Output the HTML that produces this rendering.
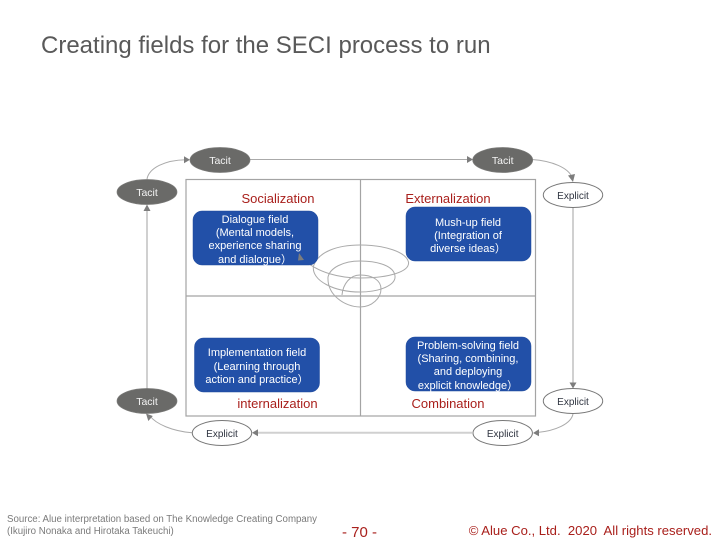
<!DOCTYPE html>
<html>
<head>
<meta charset="utf-8">
<style>
html,body{margin:0;padding:0;background:#fff;width:720px;height:540px;overflow:hidden}
svg{display:block}
text{font-family:"Liberation Sans",sans-serif}
.w{fill:#fff;font-size:11px;text-anchor:middle}
.e{font-size:10px;text-anchor:middle;fill:#2f3440}
.t{font-size:10.5px;text-anchor:middle;fill:#f4f4f4}
.r{fill:#a9201c;font-size:13px;text-anchor:middle}
.box{fill:#2250a8;stroke:#1f4a9c;stroke-width:.5}
.dark{fill:#6a6a68;stroke:#7c7c7a;stroke-width:.7}
.lite{fill:#fff;stroke:#777;stroke-width:1}
.thin{fill:none;stroke:#aaa;stroke-width:1}
.thick{fill:none;stroke:#d0d0d0;stroke-width:2}
.ar{fill:#7d7d7d}
</style>
</head>
<body>
<svg width="720" height="540" viewBox="0 0 720 540" xmlns="http://www.w3.org/2000/svg">
<text x="41" y="53" font-size="24" fill="#595959">Creating fields for the SECI process to run</text>

<rect x="186" y="179.5" width="349.5" height="236.5" fill="#fff" stroke="#a4a4a4" stroke-width="1.2"/>
<line x1="360.5" y1="179.5" x2="360.5" y2="416" stroke="#a4a4a4" stroke-width="1.2"/>
<line x1="186" y1="296" x2="535.5" y2="296" stroke="#a4a4a4" stroke-width="1.2"/>

<!-- connectors -->
<path class="thin" d="M147 179 C149 168 165 160 186 159.700"/>
<path class="ar" d="M190 159.700l-6-3.500v7z"/>
<path class="thin" stroke-width="1.2" d="M250 159.500H468"/>
<path class="ar" d="M473 159.500l-6-3.500v7z"/>
<path class="thin" d="M532 159.500 C553 161 568 168 572 177"/>
<path class="ar" d="M573 182l-5-6.500 7-1.500z"/>
<path class="thick" d="M573 207.500V384"/>
<path class="ar" d="M573 388.500l-3.500-6h7z"/>
<path class="thin" d="M573 414 C571 424 555 431 537 432.500"/>
<path class="ar" d="M533 433l6-3.800v7z"/>
<path class="thick" d="M472 432.800H256"/>
<path class="ar" d="M252 432.800l6-3.500v7z"/>
<path class="thin" d="M192 432.800 C172 431 156 424 150 416"/>
<path class="ar" d="M146 413.500l6.800 2.500-4.500 5z"/>
<path class="thick" d="M147 388.500V209"/>
<path class="ar" d="M147 204.500l-3.500 6.500h7z"/>

<!-- spiral -->
<path class="thin" d="M303 259 C318 273 340 278 360 278 C388 278 410 272 408.500 262 C406 252 385 245 360 245 C337 245 318 252 313.500 266 C311 281 335 292 360 292 C380 292 396 285 395 276 C394 266 378 261 360 261 C343 261 330 268 328 277 C327 295 345 307 360 307 C372 307 381 298 381 289 C381 280 372 275 360 275 C350 275 343 284 342 295"/>

<!-- ellipses -->
<ellipse class="dark" cx="220" cy="160" rx="30" ry="12.500"/>
<text class="t" x="220" y="164">Tacit</text>
<ellipse class="dark" cx="147" cy="192" rx="30" ry="12.500"/>
<text class="t" x="147" y="196">Tacit</text>
<ellipse class="dark" cx="502.700" cy="160" rx="30" ry="12.500"/>
<text class="t" x="502.700" y="164">Tacit</text>
<ellipse class="lite" cx="573" cy="195" rx="29.700" ry="12.500"/>
<text class="e" x="573" y="199">Explicit</text>
<ellipse class="lite" cx="573" cy="401" rx="29.700" ry="12.500"/>
<text class="e" x="573" y="405">Explicit</text>
<ellipse class="lite" cx="502.700" cy="433" rx="29.700" ry="12.500"/>
<text class="e" x="502.700" y="437">Explicit</text>
<ellipse class="lite" cx="222" cy="433" rx="29.700" ry="12.500"/>
<text class="e" x="222" y="437">Explicit</text>
<ellipse class="dark" cx="147" cy="401" rx="30" ry="12.500"/>
<text class="t" x="147" y="405">Tacit</text>

<!-- blue boxes -->
<rect class="box" x="193" y="211" width="125" height="54" rx="9"/>
<text class="w" x="255" y="223">Dialogue field</text>
<text class="w" x="255" y="236">(Mental models,</text>
<text class="w" x="255" y="249">experience sharing</text>
<text class="w" x="255" y="263">and dialogue）</text>
<path class="ar" d="M299 253l5 7-6 .500z"/>

<rect class="box" x="406" y="207" width="125" height="54" rx="9"/>
<text class="w" x="468" y="226">Mush-up field</text>
<text class="w" x="468" y="239">(Integration of</text>
<text class="w" x="468" y="252">diverse ideas）</text>

<rect class="box" x="194.500" y="338" width="125" height="54" rx="9"/>
<text class="w" x="257" y="356">Implementation field</text>
<text class="w" x="257" y="370">(Learning through</text>
<text class="w" x="257" y="383">action and practice）</text>

<rect class="box" x="406" y="337" width="125" height="54" rx="9"/>
<text class="w" x="468" y="349">Problem-solving field</text>
<text class="w" x="468" y="362">(Sharing, combining,</text>
<text class="w" x="468" y="375">and deploying</text>
<text class="w" x="468" y="389">explicit knowledge）</text>

<!-- labels -->
<text class="r" x="278" y="203">Socialization</text>
<text class="r" x="448" y="203">Externalization</text>
<text class="r" x="277.500" y="408">internalization</text>
<text class="r" x="448" y="408">Combination</text>

<!-- footer -->
<text x="7" y="522" font-size="9.700" fill="#7a7a7a">Source: Alue interpretation based on The Knowledge Creating Company</text>
<text x="7" y="534" font-size="9.700" fill="#7a7a7a">(Ikujiro Nonaka and Hirotaka Takeuchi)</text>
<text x="342" y="537" font-size="15" fill="#a9201c">- 70 -</text>
<text x="712" y="535" font-size="13.100" fill="#a9201c" text-anchor="end" xml:space="preserve">© Alue Co., Ltd.  2020  All rights reserved.</text>
</svg>
</body>
</html>
